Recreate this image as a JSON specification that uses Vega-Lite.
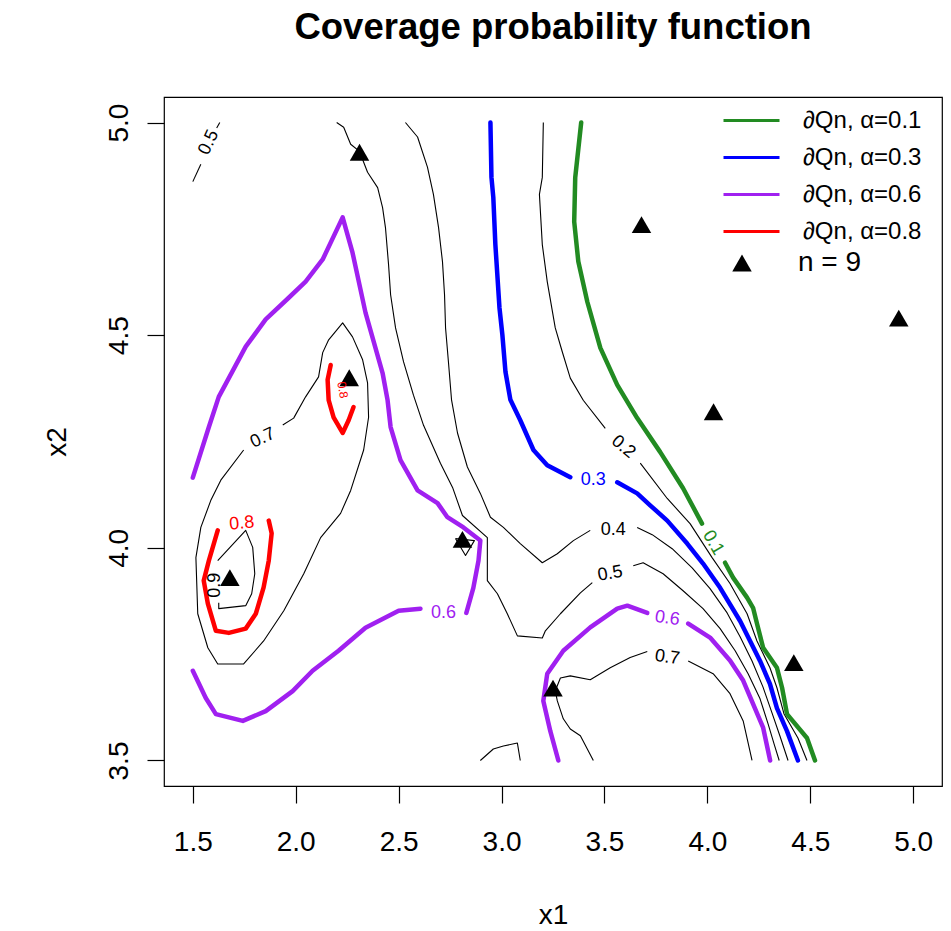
{
"$schema":"https://vega.github.io/schema/vega-lite/v6.json",
"width":778,"height":689,
"autosize":"none",
"padding":{"left":164,"top":97,"right":9,"bottom":145},
"background":"white",
"title":{"text":"Coverage probability function","font":"Liberation Sans","fontSize":36.5,"fontWeight":"bold","color":"black","anchor":"middle","offset":51},
"config":{"view":{"stroke":"black","strokeWidth":1.2},
"axis":{"domain":false,"grid":false,"tickColor":"black","tickWidth":1.2,"tickSize":17,"labelFont":"Liberation Sans","labelFontSize":28,"labelColor":"black","labelFlush":false,"labelOverlap":false,"titleFont":"Liberation Sans","titleFontSize":28,"titleFontWeight":"normal","titleColor":"black"}},
"datasets":{
"contours":[
{"s":"g1","l":"0.1","i":0,"x":3.387,"y":5.0},{"s":"g1","l":"0.1","i":1,"x":3.358,"y":4.871},{"s":"g1","l":"0.1","i":2,"x":3.353,"y":4.767},{"s":"g1","l":"0.1","i":3,"x":3.373,"y":4.673},{"s":"g1","l":"0.1","i":4,"x":3.417,"y":4.578},{"s":"g1","l":"0.1","i":5,"x":3.48,"y":4.47},{"s":"g1","l":"0.1","i":6,"x":3.562,"y":4.383},{"s":"g1","l":"0.1","i":7,"x":3.659,"y":4.305},{"s":"g1","l":"0.1","i":8,"x":3.771,"y":4.225},{"s":"g1","l":"0.1","i":9,"x":3.882,"y":4.14},{"s":"g1","l":"0.1","i":10,"x":3.974,"y":4.057},
{"s":"g2","l":"0.1","i":0,"x":4.086,"y":3.965},{"s":"g2","l":"0.1","i":1,"x":4.125,"y":3.93},{"s":"g2","l":"0.1","i":2,"x":4.193,"y":3.883},{"s":"g2","l":"0.1","i":3,"x":4.222,"y":3.859},{"s":"g2","l":"0.1","i":4,"x":4.241,"y":3.822},{"s":"g2","l":"0.1","i":5,"x":4.271,"y":3.765},{"s":"g2","l":"0.1","i":6,"x":4.338,"y":3.718},{"s":"g2","l":"0.1","i":7,"x":4.363,"y":3.671},{"s":"g2","l":"0.1","i":8,"x":4.387,"y":3.609},{"s":"g2","l":"0.1","i":9,"x":4.484,"y":3.553},{"s":"g2","l":"0.1","i":10,"x":4.523,"y":3.5},
{"s":"b1","l":"0.3","i":0,"x":2.946,"y":5.0},{"s":"b1","l":"0.3","i":1,"x":2.951,"y":4.871},{"s":"b1","l":"0.3","i":2,"x":2.96,"y":4.824},{"s":"b1","l":"0.3","i":3,"x":2.97,"y":4.713},{"s":"b1","l":"0.3","i":4,"x":2.99,"y":4.564},{"s":"b1","l":"0.3","i":5,"x":3.004,"y":4.501},{"s":"b1","l":"0.3","i":6,"x":3.019,"y":4.414},{"s":"b1","l":"0.3","i":7,"x":3.043,"y":4.348},{"s":"b1","l":"0.3","i":8,"x":3.091,"y":4.3},{"s":"b1","l":"0.3","i":9,"x":3.155,"y":4.23},{"s":"b1","l":"0.3","i":10,"x":3.222,"y":4.194},{"s":"b1","l":"0.3","i":11,"x":3.334,"y":4.166},
{"s":"b2","l":"0.3","i":0,"x":3.562,"y":4.154},{"s":"b2","l":"0.3","i":1,"x":3.659,"y":4.128},{"s":"b2","l":"0.3","i":2,"x":3.722,"y":4.1},{"s":"b2","l":"0.3","i":3,"x":3.805,"y":4.064},{"s":"b2","l":"0.3","i":4,"x":3.902,"y":4.01},{"s":"b2","l":"0.3","i":5,"x":3.979,"y":3.963},{"s":"b2","l":"0.3","i":6,"x":4.062,"y":3.906},{"s":"b2","l":"0.3","i":7,"x":4.159,"y":3.828},{"s":"b2","l":"0.3","i":8,"x":4.256,"y":3.734},{"s":"b2","l":"0.3","i":9,"x":4.304,"y":3.68},{"s":"b2","l":"0.3","i":10,"x":4.338,"y":3.623},{"s":"b2","l":"0.3","i":11,"x":4.387,"y":3.569},{"s":"b2","l":"0.3","i":12,"x":4.44,"y":3.5},
{"s":"pA1","l":"0.6","i":0,"x":1.5,"y":4.165},{"s":"pA1","l":"0.6","i":1,"x":1.578,"y":4.284},{"s":"pA1","l":"0.6","i":2,"x":1.626,"y":4.355},{"s":"pA1","l":"0.6","i":3,"x":1.757,"y":4.473},{"s":"pA1","l":"0.6","i":4,"x":1.854,"y":4.537},{"s":"pA1","l":"0.6","i":5,"x":1.966,"y":4.588},{"s":"pA1","l":"0.6","i":6,"x":2.048,"y":4.626},{"s":"pA1","l":"0.6","i":7,"x":2.131,"y":4.678},{"s":"pA1","l":"0.6","i":8,"x":2.228,"y":4.777},{"s":"pA1","l":"0.6","i":9,"x":2.276,"y":4.694},{"s":"pA1","l":"0.6","i":10,"x":2.339,"y":4.553},{"s":"pA1","l":"0.6","i":11,"x":2.422,"y":4.411},{"s":"pA1","l":"0.6","i":12,"x":2.446,"y":4.348},{"s":"pA1","l":"0.6","i":13,"x":2.461,"y":4.284},{"s":"pA1","l":"0.6","i":14,"x":2.509,"y":4.206},{"s":"pA1","l":"0.6","i":15,"x":2.592,"y":4.135},{"s":"pA1","l":"0.6","i":16,"x":2.689,"y":4.105},{"s":"pA1","l":"0.6","i":17,"x":2.737,"y":4.072},{"s":"pA1","l":"0.6","i":18,"x":2.815,"y":4.048},{"s":"pA1","l":"0.6","i":19,"x":2.897,"y":4.017},{"s":"pA1","l":"0.6","i":20,"x":2.888,"y":3.97},{"s":"pA1","l":"0.6","i":21,"x":2.863,"y":3.906},{"s":"pA1","l":"0.6","i":22,"x":2.829,"y":3.847},
{"s":"pA2","l":"0.6","i":0,"x":2.606,"y":3.857},{"s":"pA2","l":"0.6","i":1,"x":2.5,"y":3.852},{"s":"pA2","l":"0.6","i":2,"x":2.339,"y":3.812},{"s":"pA2","l":"0.6","i":3,"x":2.208,"y":3.758},{"s":"pA2","l":"0.6","i":4,"x":2.082,"y":3.711},{"s":"pA2","l":"0.6","i":5,"x":1.985,"y":3.663},{"s":"pA2","l":"0.6","i":6,"x":1.854,"y":3.616},{"s":"pA2","l":"0.6","i":7,"x":1.743,"y":3.593},{"s":"pA2","l":"0.6","i":8,"x":1.612,"y":3.609},{"s":"pA2","l":"0.6","i":9,"x":1.563,"y":3.647},{"s":"pA2","l":"0.6","i":10,"x":1.5,"y":3.711},
{"s":"pB1","l":"0.6","i":0,"x":3.276,"y":3.5},{"s":"pB1","l":"0.6","i":1,"x":3.237,"y":3.569},{"s":"pB1","l":"0.6","i":2,"x":3.203,"y":3.64},{"s":"pB1","l":"0.6","i":3,"x":3.222,"y":3.704},{"s":"pB1","l":"0.6","i":4,"x":3.3,"y":3.758},{"s":"pB1","l":"0.6","i":5,"x":3.431,"y":3.813},{"s":"pB1","l":"0.6","i":6,"x":3.562,"y":3.857},{"s":"pB1","l":"0.6","i":7,"x":3.611,"y":3.864},{"s":"pB1","l":"0.6","i":8,"x":3.708,"y":3.847},
{"s":"pB2","l":"0.6","i":0,"x":3.907,"y":3.822},{"s":"pB2","l":"0.6","i":1,"x":4.013,"y":3.789},{"s":"pB2","l":"0.6","i":2,"x":4.11,"y":3.735},{"s":"pB2","l":"0.6","i":3,"x":4.174,"y":3.688},{"s":"pB2","l":"0.6","i":4,"x":4.222,"y":3.633},{"s":"pB2","l":"0.6","i":5,"x":4.271,"y":3.577},{"s":"pB2","l":"0.6","i":6,"x":4.305,"y":3.5},
{"s":"r1","l":"0.8","i":0,"x":1.621,"y":4.041},{"s":"r1","l":"0.8","i":1,"x":1.578,"y":3.97},{"s":"r1","l":"0.8","i":2,"x":1.553,"y":3.923},{"s":"r1","l":"0.8","i":3,"x":1.573,"y":3.869},{"s":"r1","l":"0.8","i":4,"x":1.612,"y":3.805},{"s":"r1","l":"0.8","i":5,"x":1.675,"y":3.8},{"s":"r1","l":"0.8","i":6,"x":1.757,"y":3.81},{"s":"r1","l":"0.8","i":7,"x":1.806,"y":3.845},{"s":"r1","l":"0.8","i":8,"x":1.844,"y":3.907},{"s":"r1","l":"0.8","i":9,"x":1.869,"y":3.97},{"s":"r1","l":"0.8","i":10,"x":1.883,"y":4.034},{"s":"r1","l":"0.8","i":11,"x":1.869,"y":4.064},
{"s":"r2","l":"0.8","i":0,"x":2.17,"y":4.43},{"s":"r2","l":"0.8","i":1,"x":2.155,"y":4.395},{"s":"r2","l":"0.8","i":2,"x":2.16,"y":4.347},{"s":"r2","l":"0.8","i":3,"x":2.184,"y":4.307},{"s":"r2","l":"0.8","i":4,"x":2.228,"y":4.27},{"s":"r2","l":"0.8","i":5,"x":2.257,"y":4.3},{"s":"r2","l":"0.8","i":6,"x":2.281,"y":4.331},
{"s":"k5a","l":"0.5","i":0,"x":2.199,"y":5.0},{"s":"k5a","l":"0.5","i":1,"x":2.233,"y":4.989},{"s":"k5a","l":"0.5","i":2,"x":2.267,"y":4.949},{"s":"k5a","l":"0.5","i":3,"x":2.31,"y":4.932},{"s":"k5a","l":"0.5","i":4,"x":2.349,"y":4.883},{"s":"k5a","l":"0.5","i":5,"x":2.398,"y":4.847},{"s":"k5a","l":"0.5","i":6,"x":2.422,"y":4.8},{"s":"k5a","l":"0.5","i":7,"x":2.436,"y":4.753},{"s":"k5a","l":"0.5","i":8,"x":2.451,"y":4.666},{"s":"k5a","l":"0.5","i":9,"x":2.461,"y":4.595},{"s":"k5a","l":"0.5","i":10,"x":2.485,"y":4.517},{"s":"k5a","l":"0.5","i":11,"x":2.524,"y":4.437},{"s":"k5a","l":"0.5","i":12,"x":2.572,"y":4.359},{"s":"k5a","l":"0.5","i":13,"x":2.621,"y":4.288},{"s":"k5a","l":"0.5","i":14,"x":2.703,"y":4.199},{"s":"k5a","l":"0.5","i":15,"x":2.762,"y":4.142},{"s":"k5a","l":"0.5","i":16,"x":2.81,"y":4.076},{"s":"k5a","l":"0.5","i":17,"x":2.931,"y":4.024},{"s":"k5a","l":"0.5","i":18,"x":2.931,"y":3.923},{"s":"k5a","l":"0.5","i":19,"x":2.98,"y":3.892},{"s":"k5a","l":"0.5","i":20,"x":3.028,"y":3.845},{"s":"k5a","l":"0.5","i":21,"x":3.077,"y":3.793},{"s":"k5a","l":"0.5","i":22,"x":3.198,"y":3.788},{"s":"k5a","l":"0.5","i":23,"x":3.213,"y":3.805},{"s":"k5a","l":"0.5","i":24,"x":3.286,"y":3.845},{"s":"k5a","l":"0.5","i":25,"x":3.383,"y":3.894},{"s":"k5a","l":"0.5","i":26,"x":3.441,"y":3.918},
{"s":"k5b","l":"0.5","i":0,"x":3.64,"y":3.958},{"s":"k5b","l":"0.5","i":1,"x":3.688,"y":3.965},{"s":"k5b","l":"0.5","i":2,"x":3.785,"y":3.939},{"s":"k5b","l":"0.5","i":3,"x":3.882,"y":3.899},{"s":"k5b","l":"0.5","i":4,"x":3.979,"y":3.857},{"s":"k5b","l":"0.5","i":5,"x":4.062,"y":3.81},{"s":"k5b","l":"0.5","i":6,"x":4.135,"y":3.758},{"s":"k5b","l":"0.5","i":7,"x":4.198,"y":3.704},{"s":"k5b","l":"0.5","i":8,"x":4.256,"y":3.645},{"s":"k5b","l":"0.5","i":9,"x":4.295,"y":3.586},{"s":"k5b","l":"0.5","i":10,"x":4.324,"y":3.539},{"s":"k5b","l":"0.5","i":11,"x":4.349,"y":3.5},
{"s":"k4a","l":"0.4","i":0,"x":2.533,"y":5.0},{"s":"k4a","l":"0.4","i":1,"x":2.592,"y":4.966},{"s":"k4a","l":"0.4","i":2,"x":2.64,"y":4.895},{"s":"k4a","l":"0.4","i":3,"x":2.669,"y":4.831},{"s":"k4a","l":"0.4","i":4,"x":2.694,"y":4.753},{"s":"k4a","l":"0.4","i":5,"x":2.713,"y":4.673},{"s":"k4a","l":"0.4","i":6,"x":2.723,"y":4.595},{"s":"k4a","l":"0.4","i":7,"x":2.728,"y":4.517},{"s":"k4a","l":"0.4","i":8,"x":2.742,"y":4.437},{"s":"k4a","l":"0.4","i":9,"x":2.757,"y":4.348},{"s":"k4a","l":"0.4","i":10,"x":2.786,"y":4.27},{"s":"k4a","l":"0.4","i":11,"x":2.834,"y":4.19},{"s":"k4a","l":"0.4","i":12,"x":2.897,"y":4.128},{"s":"k4a","l":"0.4","i":13,"x":2.946,"y":4.072},{"s":"k4a","l":"0.4","i":14,"x":3.009,"y":4.048},{"s":"k4a","l":"0.4","i":15,"x":3.091,"y":4.01},{"s":"k4a","l":"0.4","i":16,"x":3.198,"y":3.965},{"s":"k4a","l":"0.4","i":17,"x":3.271,"y":3.986},{"s":"k4a","l":"0.4","i":18,"x":3.349,"y":4.017},{"s":"k4a","l":"0.4","i":19,"x":3.431,"y":4.041},
{"s":"k4b","l":"0.4","i":0,"x":3.659,"y":4.048},{"s":"k4b","l":"0.4","i":1,"x":3.732,"y":4.031},{"s":"k4b","l":"0.4","i":2,"x":3.829,"y":3.998},{"s":"k4b","l":"0.4","i":3,"x":3.926,"y":3.953},{"s":"k4b","l":"0.4","i":4,"x":4.013,"y":3.904},{"s":"k4b","l":"0.4","i":5,"x":4.096,"y":3.847},{"s":"k4b","l":"0.4","i":6,"x":4.159,"y":3.791},{"s":"k4b","l":"0.4","i":7,"x":4.217,"y":3.734},{"s":"k4b","l":"0.4","i":8,"x":4.27,"y":3.673},{"s":"k4b","l":"0.4","i":9,"x":4.314,"y":3.612},{"s":"k4b","l":"0.4","i":10,"x":4.353,"y":3.557},{"s":"k4b","l":"0.4","i":11,"x":4.392,"y":3.5},
{"s":"k2a","l":"0.2","i":0,"x":3.203,"y":5.0},{"s":"k2a","l":"0.2","i":1,"x":3.198,"y":4.871},{"s":"k2a","l":"0.2","i":2,"x":3.184,"y":4.831},{"s":"k2a","l":"0.2","i":3,"x":3.198,"y":4.713},{"s":"k2a","l":"0.2","i":4,"x":3.222,"y":4.626},{"s":"k2a","l":"0.2","i":5,"x":3.261,"y":4.517},{"s":"k2a","l":"0.2","i":6,"x":3.295,"y":4.461},{"s":"k2a","l":"0.2","i":7,"x":3.334,"y":4.399},{"s":"k2a","l":"0.2","i":8,"x":3.397,"y":4.347},{"s":"k2a","l":"0.2","i":9,"x":3.504,"y":4.281},
{"s":"k2b","l":"0.2","i":0,"x":3.674,"y":4.199},{"s":"k2b","l":"0.2","i":1,"x":3.805,"y":4.116},{"s":"k2b","l":"0.2","i":2,"x":3.916,"y":4.057},{"s":"k2b","l":"0.2","i":3,"x":4.023,"y":3.977},{"s":"k2b","l":"0.2","i":4,"x":4.11,"y":3.916},{"s":"k2b","l":"0.2","i":5,"x":4.193,"y":3.845},{"s":"k2b","l":"0.2","i":6,"x":4.241,"y":3.781},{"s":"k2b","l":"0.2","i":7,"x":4.304,"y":3.718},{"s":"k2b","l":"0.2","i":8,"x":4.338,"y":3.671},{"s":"k2b","l":"0.2","i":9,"x":4.372,"y":3.61},{"s":"k2b","l":"0.2","i":10,"x":4.44,"y":3.553},{"s":"k2b","l":"0.2","i":11,"x":4.484,"y":3.5},
{"s":"k7L","l":"0.7","i":0,"x":1.937,"y":4.289},{"s":"k7L","l":"0.7","i":1,"x":1.99,"y":4.305},{"s":"k7L","l":"0.7","i":2,"x":2.048,"y":4.355},{"s":"k7L","l":"0.7","i":3,"x":2.111,"y":4.402},{"s":"k7L","l":"0.7","i":4,"x":2.131,"y":4.459},{"s":"k7L","l":"0.7","i":5,"x":2.16,"y":4.489},{"s":"k7L","l":"0.7","i":6,"x":2.228,"y":4.529},{"s":"k7L","l":"0.7","i":7,"x":2.276,"y":4.496},{"s":"k7L","l":"0.7","i":8,"x":2.325,"y":4.442},{"s":"k7L","l":"0.7","i":9,"x":2.349,"y":4.388},{"s":"k7L","l":"0.7","i":10,"x":2.354,"y":4.307},{"s":"k7L","l":"0.7","i":11,"x":2.33,"y":4.23},{"s":"k7L","l":"0.7","i":12,"x":2.267,"y":4.135},{"s":"k7L","l":"0.7","i":13,"x":2.218,"y":4.081},{"s":"k7L","l":"0.7","i":14,"x":2.121,"y":4.024},{"s":"k7L","l":"0.7","i":15,"x":2.039,"y":3.939},{"s":"k7L","l":"0.7","i":16,"x":1.942,"y":3.852},{"s":"k7L","l":"0.7","i":17,"x":1.844,"y":3.781},{"s":"k7L","l":"0.7","i":18,"x":1.747,"y":3.727},{"s":"k7L","l":"0.7","i":19,"x":1.621,"y":3.727},{"s":"k7L","l":"0.7","i":20,"x":1.573,"y":3.765},{"s":"k7L","l":"0.7","i":21,"x":1.524,"y":3.845},{"s":"k7L","l":"0.7","i":22,"x":1.515,"y":3.977},{"s":"k7L","l":"0.7","i":23,"x":1.539,"y":4.048},{"s":"k7L","l":"0.7","i":24,"x":1.587,"y":4.111},{"s":"k7L","l":"0.7","i":25,"x":1.636,"y":4.159},{"s":"k7L","l":"0.7","i":26,"x":1.747,"y":4.23},
{"s":"k9","l":"0.9","i":0,"x":1.621,"y":3.97},{"s":"k9","l":"0.9","i":1,"x":1.757,"y":4.041},{"s":"k9","l":"0.9","i":2,"x":1.791,"y":4.001},{"s":"k9","l":"0.9","i":3,"x":1.801,"y":3.939},{"s":"k9","l":"0.9","i":4,"x":1.786,"y":3.892},{"s":"k9","l":"0.9","i":5,"x":1.757,"y":3.864},{"s":"k9","l":"0.9","i":6,"x":1.626,"y":3.857},{"s":"k9","l":"0.9","i":7,"x":1.626,"y":3.871},
{"s":"k5TLa","l":"0.5","i":0,"x":1.5,"y":4.861},{"s":"k5TLa","l":"0.5","i":1,"x":1.539,"y":4.902},
{"s":"k5TLb","l":"0.5","i":0,"x":1.616,"y":4.987},{"s":"k5TLb","l":"0.5","i":1,"x":1.631,"y":5.0},
{"s":"k7Ra","l":"0.7","i":0,"x":3.446,"y":3.5},{"s":"k7Ra","l":"0.7","i":1,"x":3.383,"y":3.558},{"s":"k7Ra","l":"0.7","i":2,"x":3.334,"y":3.574},{"s":"k7Ra","l":"0.7","i":3,"x":3.3,"y":3.598},{"s":"k7Ra","l":"0.7","i":4,"x":3.271,"y":3.64},{"s":"k7Ra","l":"0.7","i":5,"x":3.261,"y":3.664},{"s":"k7Ra","l":"0.7","i":6,"x":3.286,"y":3.694},{"s":"k7Ra","l":"0.7","i":7,"x":3.334,"y":3.699},{"s":"k7Ra","l":"0.7","i":8,"x":3.431,"y":3.69},{"s":"k7Ra","l":"0.7","i":9,"x":3.528,"y":3.718},{"s":"k7Ra","l":"0.7","i":10,"x":3.625,"y":3.742},{"s":"k7Ra","l":"0.7","i":11,"x":3.708,"y":3.756},
{"s":"k7Rb","l":"0.7","i":0,"x":3.907,"y":3.734},{"s":"k7Rb","l":"0.7","i":1,"x":4.028,"y":3.704},{"s":"k7Rb","l":"0.7","i":2,"x":4.11,"y":3.657},{"s":"k7Rb","l":"0.7","i":3,"x":4.174,"y":3.593},{"s":"k7Rb","l":"0.7","i":4,"x":4.217,"y":3.5},
{"s":"kbot","l":"0.7","i":0,"x":2.897,"y":3.5},{"s":"kbot","l":"0.7","i":1,"x":2.96,"y":3.527},{"s":"kbot","l":"0.7","i":2,"x":3.009,"y":3.534},{"s":"kbot","l":"0.7","i":3,"x":3.077,"y":3.541},{"s":"kbot","l":"0.7","i":4,"x":3.091,"y":3.5},
{"s":"ktri","l":"0.5","i":0,"x":2.776,"y":4.022},{"s":"ktri","l":"0.5","i":1,"x":2.825,"y":3.982},{"s":"ktri","l":"0.5","i":2,"x":2.868,"y":4.017},{"s":"ktri","l":"0.5","i":3,"x":2.776,"y":4.022}
],
"labels":[
{"id":"h1","text":"0.4","level":"0.4","x":3.543,"y":4.041},
{"id":"h2","text":"0.3","level":"0.3","x":3.446,"y":4.159},
{"id":"h3","text":"0.6","level":"0.6","x":2.718,"y":3.847},
{"id":"tl5","text":"0.5","level":"0.5","x":1.578,"y":4.953},
{"id":"l7","text":"0.7","level":"0.7","x":1.84,"y":4.258},
{"id":"c9","text":"0.9","level":"0.9","x":1.607,"y":3.912},
{"id":"l8","text":"0.8","level":"0.8","x":1.738,"y":4.057},
{"id":"s8","text":"0.8","level":"0.8","x":2.228,"y":4.371},
{"id":"r2","text":"0.2","level":"0.2","x":3.591,"y":4.237},
{"id":"r5","text":"0.5","level":"0.5","x":3.528,"y":3.939},
{"id":"r7","text":"0.7","level":"0.7","x":3.805,"y":3.742},
{"id":"r6","text":"0.6","level":"0.6","x":3.805,"y":3.834},
{"id":"g1","text":"0.1","level":"0.1","x":4.028,"y":4.012}
],
"points":[
{"series":"n = 9","x":2.31,"y":4.93},{"series":"n = 9","x":2.26,"y":4.4},{"series":"n = 9","x":1.68,"y":3.93},{"series":"n = 9","x":2.81,"y":4.02},{"series":"n = 9","x":3.25,"y":3.67},{"series":"n = 9","x":3.68,"y":4.76},{"series":"n = 9","x":4.03,"y":4.32},{"series":"n = 9","x":4.42,"y":3.73},{"series":"n = 9","x":4.93,"y":4.54}
]},
"encoding":{
"x":{"field":"x","type":"quantitative","scale":{"domain":[1.36,5.14],"nice":false,"zero":false},
"axis":{"values":[1.5,2,2.5,3,3.5,4,4.5,5],"format":".1f","labelPadding":25,"title":"x1","titlePadding":45}},
"y":{"field":"y","type":"quantitative","scale":{"domain":[3.44,5.06],"nice":false,"zero":false},
"axis":{"values":[3.5,4,4.5,5],"format":".1f","labelAngle":270,"labelAlign":"center","labelBaseline":"alphabetic","labelPadding":20,"title":"x2","titlePadding":34}}
},
"layer":[
{"data":{"name":"contours"},"transform":[{"filter":"indexof(['0.1','0.3','0.6','0.8'], datum.l) < 0"}],
"mark":{"type":"line","color":"black","strokeWidth":1.1,"strokeJoin":"round"},
"encoding":{"detail":{"field":"s"},"order":{"field":"i","type":"quantitative"}}},
{"data":{"name":"contours"},"transform":[{"filter":"indexof(['0.1','0.3','0.6','0.8'], datum.l) >= 0"}],
"mark":{"type":"line","strokeWidth":4.5,"strokeJoin":"round","strokeCap":"round"},
"encoding":{"detail":{"field":"s"},"order":{"field":"i","type":"quantitative"},
"color":{"field":"l","type":"nominal","scale":{"domain":["0.1","0.3","0.6","0.8"],"range":["#228B22","#0000FF","#A020F0","#FF0000"]},
"legend":{"orient":"none","legendX":572,"legendY":8,"title":null,"symbolType":"M-2,0H2","symbolSize":784,"symbolStrokeWidth":3,"labelExpr":"'∂Qn, α=' + datum.label","labelFontSize":24,"labelFont":"Liberation Sans","labelColor":"black","labelOffset":36,"rowPadding":9,"padding":0,"labelLimit":0}}}},
{"data":{"name":"points"},"mark":{"type":"point","filled":true,"size":380,"color":"black","opacity":1},
"encoding":{"shape":{"field":"series","type":"nominal","scale":{"range":["triangle-up"]},
"legend":{"orient":"none","legendX":564,"legendY":152,"title":null,"symbolSize":380,"symbolFillColor":"black","symbolStrokeColor":"black","labelFontSize":28,"labelFont":"Liberation Sans","labelColor":"black","labelOffset":42,"padding":0}}}},
{"data":{"name":"labels"},"transform":[{"filter":{"field":"id","oneOf":["h1","h2","h3"]}}],
"mark":{"type":"text","font":"Liberation Sans","fontSize":18,"align":"center","baseline":"middle"},
"encoding":{"text":{"field":"text"},"fill":{"field":"level","type":"nominal","scale":{"domain":["0.1","0.2","0.3","0.4","0.5","0.6","0.7","0.8","0.9"],"range":["#228B22","black","#0000FF","black","black","#A020F0","black","#FF0000","black"]},"legend":null}}},
{"data":{"name":"labels"},"transform":[{"filter":{"field":"id","oneOf":["tl5"]}}],
"mark":{"type":"text","font":"Liberation Sans","fontSize":18,"align":"center","baseline":"middle","angle":295},
"encoding":{"text":{"field":"text"},"fill":{"field":"level","type":"nominal","legend":null}}},
{"data":{"name":"labels"},"transform":[{"filter":{"field":"id","oneOf":["l7"]}}],
"mark":{"type":"text","font":"Liberation Sans","fontSize":18,"align":"center","baseline":"middle","angle":335},
"encoding":{"text":{"field":"text"},"fill":{"field":"level","type":"nominal","legend":null}}},
{"data":{"name":"labels"},"transform":[{"filter":{"field":"id","oneOf":["c9"]}}],
"mark":{"type":"text","font":"Liberation Sans","fontSize":18,"align":"center","baseline":"middle","angle":270},
"encoding":{"text":{"field":"text"},"fill":{"field":"level","type":"nominal","legend":null}}},
{"data":{"name":"labels"},"transform":[{"filter":{"field":"id","oneOf":["l8"]}}],
"mark":{"type":"text","font":"Liberation Sans","fontSize":18,"align":"center","baseline":"middle","angle":355},
"encoding":{"text":{"field":"text"},"fill":{"field":"level","type":"nominal","legend":null}}},
{"data":{"name":"labels"},"transform":[{"filter":{"field":"id","oneOf":["s8"]}}],
"mark":{"type":"text","font":"Liberation Sans","fontSize":12,"align":"center","baseline":"middle","angle":80},
"encoding":{"text":{"field":"text"},"fill":{"field":"level","type":"nominal","legend":null}}},
{"data":{"name":"labels"},"transform":[{"filter":{"field":"id","oneOf":["r2"]}}],
"mark":{"type":"text","font":"Liberation Sans","fontSize":18,"align":"center","baseline":"middle","angle":40},
"encoding":{"text":{"field":"text"},"fill":{"field":"level","type":"nominal","legend":null}}},
{"data":{"name":"labels"},"transform":[{"filter":{"field":"id","oneOf":["r5"]}}],
"mark":{"type":"text","font":"Liberation Sans","fontSize":18,"align":"center","baseline":"middle","angle":350},
"encoding":{"text":{"field":"text"},"fill":{"field":"level","type":"nominal","legend":null}}},
{"data":{"name":"labels"},"transform":[{"filter":{"field":"id","oneOf":["r7","r6"]}}],
"mark":{"type":"text","font":"Liberation Sans","fontSize":18,"align":"center","baseline":"middle","angle":8},
"encoding":{"text":{"field":"text"},"fill":{"field":"level","type":"nominal","legend":null}}},
{"data":{"name":"labels"},"transform":[{"filter":{"field":"id","oneOf":["g1"]}}],
"mark":{"type":"text","font":"Liberation Sans","fontSize":18,"align":"center","baseline":"middle","angle":60},
"encoding":{"text":{"field":"text"},"fill":{"field":"level","type":"nominal","legend":null}}},
{"mark":{"type":"rule","color":"black","strokeWidth":1.2},
"encoding":{"x":{"datum":4.04},"x2":{"datum":5.14},"y":{"datum":4.623}}}
]
}
